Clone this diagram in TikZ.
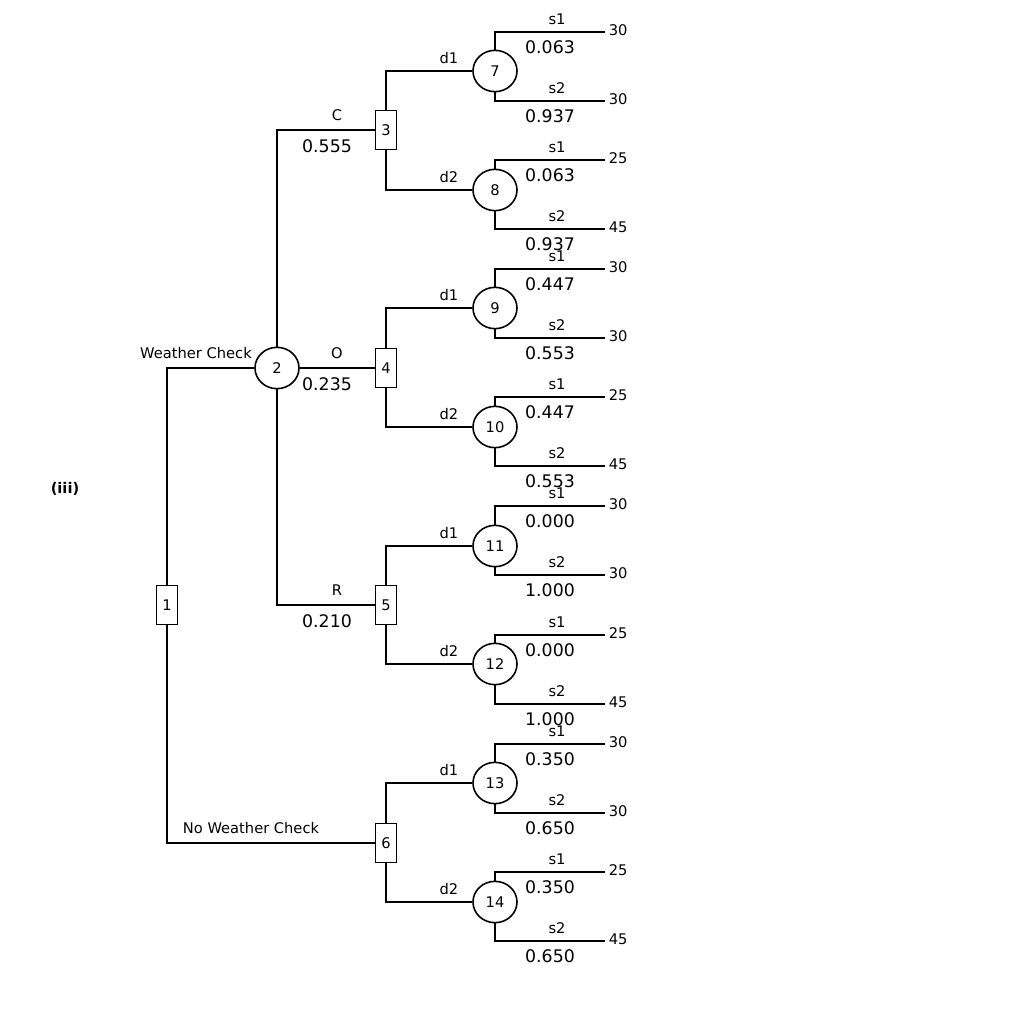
\documentclass[tikz,border=0pt]{standalone}
\usepackage{fontspec}
\setmainfont{DejaVu Sans}
\usetikzlibrary{shapes.geometric}
\begin{document}
\begin{tikzpicture}[x=0.75pt,y=-0.75pt,line width=1.2pt,
    dec/.style={draw,rectangle,minimum width=16pt,minimum height=29pt,inner sep=0pt,font=\fontsize{11}{13}\selectfont},
    chn/.style={draw,ellipse,minimum width=33pt,minimum height=31pt,inner sep=0pt,font=\fontsize{11}{13}\selectfont},
    lbl/.style={font=\fontsize{11}{13}\selectfont,inner sep=0pt},
    prb/.style={font=\fontsize{13}{15}\selectfont,inner sep=0pt}]
    \useasboundingbox (0,0) rectangle (1022,1024);
    \node[font=\bfseries\fontsize{11}{13}\selectfont] at (65,489) {(iii)};
    % root and weather check
    \node[dec] (n1) at (167,605) {1};
    \node[chn] (n2) at (277,368) {2};
    \draw (n1.north) |- (n2.west);
    \draw (n1.south) |- (386,843) coordinate (c6);
    \node[lbl] at (196,353) {Weather Check};
    \node[lbl] at (251,828) {No Weather Check};
    % decision nodes with their two chance nodes
    \foreach \d/\y/\ca/\ya/\cb/\yb in {3/130/7/71/8/190, 4/368/9/308/10/427, 5/605/11/546/12/664, 6/843/13/783/14/902}{
        \node[dec,fill=white] (n\d) at (386,\y) {\d};
        \node[chn] (n\ca) at (495,\ya) {\ca};
        \node[chn] (n\cb) at (495,\yb) {\cb};
        \draw (n\d.north) |- (n\ca.west);
        \draw (n\d.south) |- (n\cb.west);
        \node[lbl] at (449,\ya-13) {d1};
        \node[lbl] at (449,\yb-13) {d2};
    }
    \draw (n2.north) |- (n3.west);
    \draw (n2.east) -- (n4.west);
    \draw (n2.south) |- (n5.west);
    \foreach \t/\p/\y in {C/0.555/130, O/0.235/368, R/0.210/605}{
        \node[lbl] at (337,\y-15) {\t};
        \node[prb] at (327,\y+16) {\p};
    }
    % chance node outcomes
    \foreach \c/\a/\b/\pa/\pb/\va/\vb in {7/32/101/0.063/0.937/30/30, 8/160/229/0.063/0.937/25/45,
        9/269/338/0.447/0.553/30/30, 10/397/466/0.447/0.553/25/45,
        11/506/575/0.000/1.000/30/30, 12/635/704/0.000/1.000/25/45,
        13/744/813/0.350/0.650/30/30, 14/872/941/0.350/0.650/25/45}{
        \coordinate (e\c a) at (605,\a);
        \coordinate (e\c b) at (605,\b);
        \draw (n\c.north) |- (e\c a);
        \draw (n\c.south) |- (e\c b);
        \node[lbl] at (557,\a-13) {s1};
        \node[prb] at (550,\a+15) {\pa};
        \node[lbl] at (557,\b-13) {s2};
        \node[prb] at (550,\b+15) {\pb};
        \node[lbl,anchor=west] at (608,\a-2) {\va};
        \node[lbl,anchor=west] at (608,\b-2) {\vb};
    }
\end{tikzpicture}
\end{document}
